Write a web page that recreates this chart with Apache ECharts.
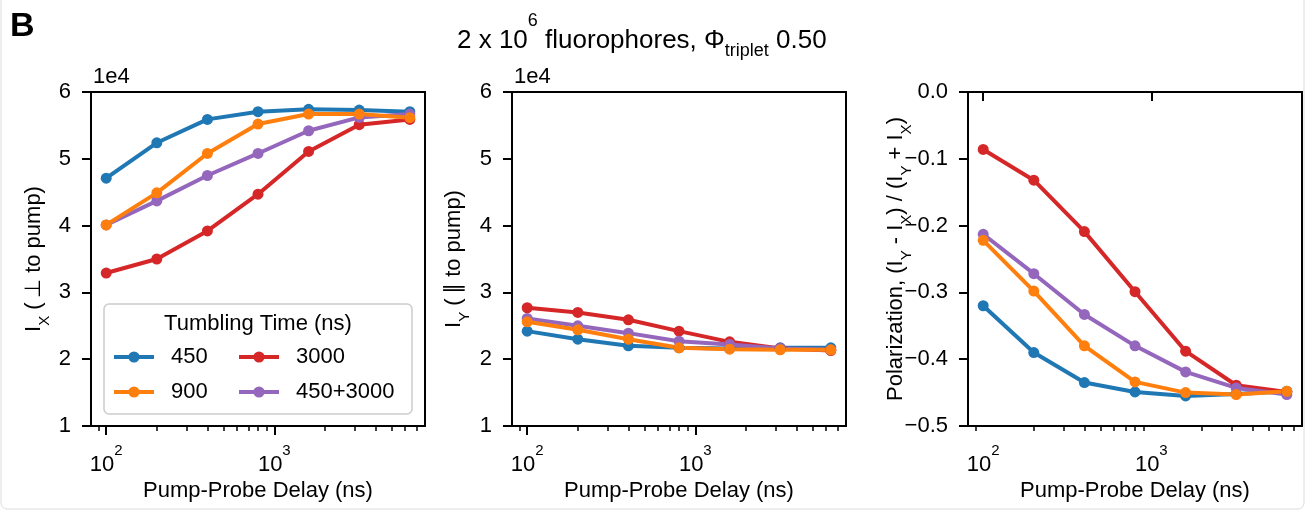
<!DOCTYPE html>
<html>
<head>
<meta charset="utf-8">
<title>Pump-probe polarization vs tumbling time</title>
<script src="https://cdn.jsdelivr.net/npm/echarts@6/dist/echarts.min.js"></script>
<style>
  html, body { margin: 0; padding: 0; background: #fff; }
  #main { width: 1307px; height: 513px; }
</style>
</head>
<body>
<div id="main"></div>
<script>
const FONT = "'Liberation Sans', Arial, sans-serif";

// pump-probe delays (ns), shared x values for every panel
const delays = [100, 200, 400, 800, 1600, 3200, 6400];
const tumbling = ['450', '900', '3000', '450+3000'];
const colors = ['#1f77b4', '#ff7f0e', '#d62728', '#9467bd'];

// I_X (perpendicular to pump), raw counts
const ix450  = [47100, 52400, 55900, 57050, 57400, 57300, 57050];
const ix900  = [40100, 44900, 50800, 55200, 56700, 56700, 56150];
const ix3000 = [32900, 35000, 39200, 44700, 51100, 55100, 55900];
const ixMix  = [40100, 43700, 47500, 50800, 54200, 56200, 56700];

// I_Y (parallel to pump), raw counts
const iy450  = [24200, 23000, 22000, 21700, 21600, 21700, 21700];
const iy900  = [25600, 24400, 23000, 21700, 21500, 21400, 21400];
const iy3000 = [27700, 27000, 25900, 24200, 22600, 21600, 21300];
const iyMix  = [26100, 25000, 23900, 22700, 22200, 21600, 21400];

// polarization (I_Y - I_X) / (I_Y + I_X)
const pol450  = [-0.320, -0.390, -0.435, -0.449, -0.455, -0.452, -0.448];
const pol900  = [-0.222, -0.298, -0.380, -0.434, -0.450, -0.453, -0.448];
const pol3000 = [-0.086, -0.132, -0.209, -0.299, -0.388, -0.439, -0.449];
const polMix  = [-0.213, -0.272, -0.333, -0.380, -0.419, -0.443, -0.453];

// tick values
const xMajorTicks = [100, 1000];
const xMinorTicks = [90, 200, 300, 400, 500, 600, 700, 800, 900, 2000, 3000, 4000, 5000, 6000, 7000];

const xMin = 81.2, xMax = 7880;
const gridLefts = [91, 512, 968];

const chart = echarts.init(document.getElementById('main'));

// drawn in this order so orange ends up on top, like the original
const drawOrder = [0, 2, 3, 1];

function panelSeries(p, sets) {
  return drawOrder.map(i => ({
    name: tumbling[i],
    type: 'line',
    xAxisIndex: p * 2,
    yAxisIndex: p,
    data: delays.map((d, k) => [d, sets[i][k]]),
    symbol: 'circle',
    symbolSize: 11,
    lineStyle: { width: 4, color: colors[i] },
    itemStyle: { color: colors[i] },
    emphasis: { disabled: true },
    z: 2
  }));
}

const black = { color: '#000', width: 2 };
// rich tokens all hang from the top; the token height sets where its centre lands
const txt = (size, h) => ({ fontSize: size, fontFamily: FONT, fontWeight: 'normal', color: '#000', height: h, verticalAlign: 'top' });
const labelRich = { b: txt(22, 44), sup: txt(15, 16) };
const nameRich = { b: txt(22, 22), sub: txt(15, 44) };

function xAxesFor(p) {
  return [{
    type: 'log', logBase: 10, gridIndex: p, min: xMin, max: xMax, position: 'bottom',
    name: 'Pump-Probe Delay (ns)', nameLocation: 'middle', nameGap: 54, nameMoveOverlap: false,
    nameTextStyle: { fontSize: 22, color: '#000', fontFamily: FONT },
    axisLine: { show: true, lineStyle: black },
    axisTick: { show: true, length: 9, lineStyle: black, customValues: xMajorTicks },
    axisLabel: {
      customValues: xMajorTicks, margin: 17,
      formatter: v => '{b|10}{sup|' + Math.round(Math.log10(v)) + '}',
      rich: labelRich
    },
    splitLine: { show: false }
  }, {
    type: 'log', logBase: 10, gridIndex: p, min: xMin, max: xMax, position: 'bottom',
    axisLine: { show: false },
    axisTick: { show: true, length: 5, lineStyle: { color: '#000', width: 1.5 }, customValues: xMinorTicks },
    axisLabel: { show: false },
    splitLine: { show: false }
  }];
}

function yAxisFor(p, min, max, interval, fmt, name, gap) {
  return {
    type: 'value', gridIndex: p, min: min, max: max, interval: interval,
    axisLine: { show: true, lineStyle: black },
    axisTick: { show: true, length: 9, lineStyle: black },
    axisLabel: { fontSize: 22, color: '#000', fontFamily: FONT, margin: 20, formatter: fmt },
    splitLine: { show: false },
    name: name, nameLocation: 'middle', nameGap: gap, nameMoveOverlap: false,
    nameTextStyle: { rich: nameRich }
  };
}

const countFmt = v => String(Math.round(v / 1e4));
const polFmt = v => Math.abs(v) < 1e-9 ? '0.0' : '\u2212' + Math.abs(v).toFixed(1);

const legendText = { fontSize: 22, color: '#000', fontFamily: FONT, lineHeight: 24, padding: [0, 0, 0, 12] };
const legendCommon = {
  orient: 'vertical', top: 345, padding: 0, itemWidth: 40, itemHeight: 14, itemGap: 11,
  selectedMode: false, textStyle: legendText, lineStyle: { width: 4 }, z: 5
};

chart.setOption({
  animation: false,
  backgroundColor: '#fff',
  title: {
    text: '{b|2 x 10}{sup|6}{b| fluorophores, \u03A6}{sub|triplet}{b| 0.50}',
    left: 457, top: 12, padding: 0,
    textStyle: {
      fontWeight: 'normal',
      rich: { b: txt(26, 57), sup: txt(18, 18), sub: txt(18, 79) }
    }
  },
  grid: gridLefts.map(l => ({
    left: l, top: 92, width: 334, height: 334,
    show: true, borderColor: '#000', borderWidth: 2, backgroundColor: 'transparent'
  })),
  xAxis: [].concat(xAxesFor(0), xAxesFor(1), xAxesFor(2)),
  yAxis: [
    yAxisFor(0, 10000, 60000, 10000, countFmt, '{b|I}{sub|X}{b| (\u2009\u22A5 to pump)}', 24),
    yAxisFor(1, 10000, 60000, 10000, countFmt, '{b|I}{sub|Y}{b| (\u2009\u2225 to pump)}', 25),
    yAxisFor(2, -0.5, 0, 0.1, polFmt,
      '{b|Polarization, (I}{sub|Y}{b| - I}{sub|X}{b|) / (I}{sub|Y}{b| + I}{sub|X}{b|)}', 39)
  ],
  legend: [
    Object.assign({ data: ['450', '900'], left: 112 }, legendCommon),
    Object.assign({ data: ['3000', '450+3000'], left: 237 }, legendCommon)
  ],
  graphic: [
    { type: 'rect', shape: { x: 1, y: -10, width: 1303, height: 519, r: 6 },
      style: { fill: 'none', stroke: '#dcdcdc', lineWidth: 1 }, z: 0, silent: true },
    { type: 'text', x: 10, y: 27, style: { text: 'B', font: 'bold 34px ' + FONT, fill: '#000', textVerticalAlign: 'middle' } },
    { type: 'text', x: 93, y: 77, style: { text: '1e4', font: '22px ' + FONT, fill: '#000', textVerticalAlign: 'middle' } },
    { type: 'text', x: 514, y: 77, style: { text: '1e4', font: '22px ' + FONT, fill: '#000', textVerticalAlign: 'middle' } },
    { type: 'rect', shape: { x: 104, y: 304, width: 308, height: 110, r: 5 },
      style: { fill: 'rgba(255,255,255,0.8)', stroke: '#cccccc', lineWidth: 1.5 }, z: 3, silent: true },
    { type: 'text', x: 258, y: 324, z: 5,
      style: { text: 'Tumbling Time (ns)', font: '22px ' + FONT, fill: '#000', textAlign: 'center', textVerticalAlign: 'middle' } }
  ],
  series: [].concat(
    panelSeries(0, [ix450, ix900, ix3000, ixMix]),
    panelSeries(1, [iy450, iy900, iy3000, iyMix]),
    panelSeries(2, [pol450, pol900, pol3000, polMix])
  )
});

window.addEventListener('resize', () => chart.resize());
</script>
</body>
</html>
